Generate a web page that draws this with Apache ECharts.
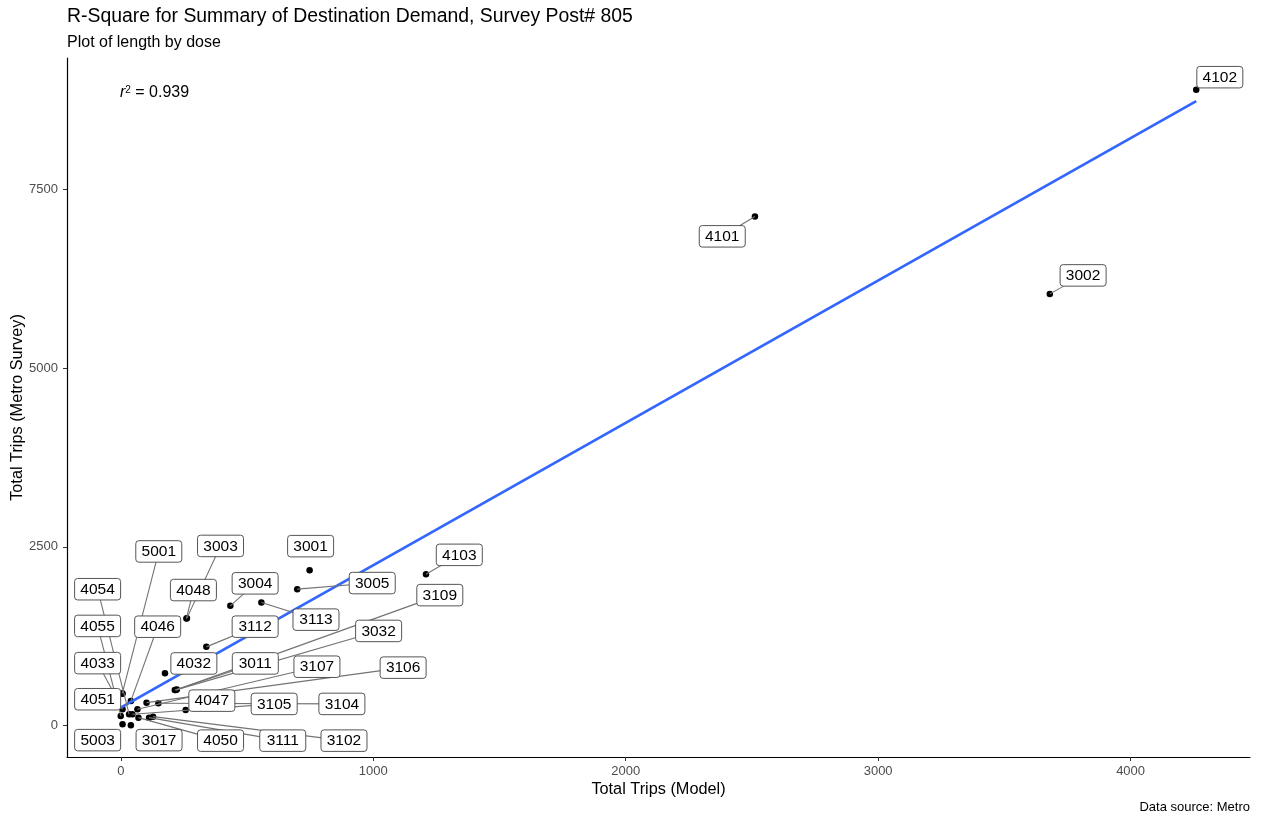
<!DOCTYPE html>
<html>
<head>
<meta charset="utf-8">
<title>R-Square for Summary of Destination Demand</title>
<script src="https://cdn.jsdelivr.net/npm/echarts@6/dist/echarts.min.js"></script>
<style>
  html, body { margin: 0; padding: 0; background: #fff; }
  #chart { width: 1265px; height: 816px; }
</style>
</head>
<body>
<div id="chart"></div>
<script>
// Destination zones (TAZ) with modelled vs surveyed trip totals
const stations = ['4102', '4101', '3002', '4103', '3001', '3005', '3004', '3113', '4048', '3003',
  '3112', '4032', '3011', '3032', '3109', '4051', '5001', '4033', '4055', '4054',
  '4046', '3105', '3107', '3106', '3104', '4047', '4050', '3111', '3102', '5003', '3017'];
const modelTrips = [4260, 2512, 3680, 1209, 748, 699, 434, 557, 260, 262,
  339, 175, 214, 222, 218, 7, 6, 7, 0, 33,
  40, 46, 66, 102, 149, 257, 70, 112, 128, 7, 40];
const surveyTrips = [8894, 7121, 6039, 2119, 2175, 1909, 1676, 1722, 1498, 1504,
  1102, 733, 500, 504, 497, 448, 452, 230, 136, 160,
  346, 160, 230, 322, 314, 220, 112, 112, 126, 20, 6];

const xTicks = [0, 1000, 2000, 3000, 4000];
const yTicks = [0, 2500, 5000, 7500];

// Where each repelled label box sits, as a pixel offset of its centre from the point
const labelOffset = {
  '4102': [23.6, -12.6], '4101': [-32.7, 19.8], '3002': [33.3, -18.5], '4103': [33.3, -19.3],
  '3001': [1, -24], '3005': [75, -6.1], '3004': [24.8, -22.5], '3113': [54.6, 17.1],
  '4048': [7, -28.5], '3003': [33.6, -72.2], '3112': [48.8, -20.2], '4032': [28.9, -9.8],
  '3011': [80.5, -26.5], '3032': [201.8, -58.7], '3109': [264, -95], '4051': [-24.9, 5.6],
  '5001': [36.5, -141.9], '4033': [-24.9, -46.1], '4055': [-23.2, -90], '4054': [-31.5, -125],
  '4046': [26.8, -74.2], '3105': [141.8, -10.3], '3107': [179.5, -42.5], '3106': [256.6, -35],
  '3104': [183.5, 0.7], '4047': [26.2, -9.3], '4050': [82.1, 23], '3111': [133.7, 23],
  '3102': [190.9, 24], '5003': [-24.9, 15.9], '3017': [28.2, 14.9]
};

const BOX_W = 46, BOX_H = 21.5, MIN_SEGMENT = 14;
const FONT = '"Liberation Sans", Arial, Helvetica, sans-serif';

const points = modelTrips.map((x, i) => [x, surveyTrips[i]]);

// Least-squares fit of survey on model
const n = points.length;
const mx = modelTrips.reduce((a, b) => a + b, 0) / n;
const my = surveyTrips.reduce((a, b) => a + b, 0) / n;
let sxy = 0, sxx = 0;
for (let i = 0; i < n; i++) {
  sxy += (modelTrips[i] - mx) * (surveyTrips[i] - my);
  sxx += (modelTrips[i] - mx) * (modelTrips[i] - mx);
}
const slope = sxy / sxx;
const intercept = my - slope * mx;
const xLo = Math.min(...modelTrips), xHi = Math.max(...modelTrips);
const yLo = Math.min(...surveyTrips), yHi = Math.max(...surveyTrips);
const fitLine = [[xLo, intercept + slope * xLo], [xHi, intercept + slope * xHi]];

// 5% padding on both ends of each axis
const xPad = 0.05 * (xHi - xLo), yPad = 0.05 * (yHi - yLo);

function labelCentre(params, api) {
  const name = stations[params.dataIndex];
  const p = api.coord([api.value(0), api.value(1)]);
  const off = labelOffset[name] || [0, 0];
  return { name, p, c: [p[0] + off[0], p[1] + off[1]] };
}

function renderSegment(params, api) {
  const { p, c } = labelCentre(params, api);
  const dx = p[0] - c[0], dy = p[1] - c[1];
  const tx = Math.abs(dx) > 1e-6 ? (BOX_W / 2) / Math.abs(dx) : Infinity;
  const ty = Math.abs(dy) > 1e-6 ? (BOX_H / 2) / Math.abs(dy) : Infinity;
  const t = Math.min(tx, ty);
  if (t >= 1) return { type: 'group', children: [] };
  const e = [c[0] + dx * t, c[1] + dy * t];
  if (Math.hypot(p[0] - e[0], p[1] - e[1]) < MIN_SEGMENT) return { type: 'group', children: [] };
  return {
    type: 'line',
    shape: { x1: p[0], y1: p[1], x2: c[0], y2: c[1] },
    style: { stroke: '#737373', lineWidth: 1.1 }
  };
}

function renderLabel(params, api) {
  const { name, c } = labelCentre(params, api);
  return {
    type: 'group',
    children: [
      {
        type: 'rect',
        shape: { x: c[0] - BOX_W / 2, y: c[1] - BOX_H / 2, width: BOX_W, height: BOX_H, r: 3 },
        style: { fill: '#ffffff', stroke: '#555555', lineWidth: 1 }
      },
      {
        type: 'text',
        style: {
          text: name, x: c[0], y: c[1] + 0.5, align: 'center', verticalAlign: 'middle',
          font: '15.5px ' + FONT, fill: '#000000'
        }
      }
    ]
  };
}

const plainNumber = v => String(v);

const chart = echarts.init(document.getElementById('chart'), null, { renderer: 'canvas' });

chart.setOption({
  animation: false,
  backgroundColor: '#ffffff',
  textStyle: { fontFamily: FONT },
  title: [
    {
      text: 'R-Square for Summary of Destination Demand, Survey Post# 805',
      subtext: 'Plot of length by dose',
      left: 67, top: 6, padding: 0, itemGap: 5,
      textStyle: { fontSize: 19.4, fontWeight: 'normal', color: '#000', lineHeight: 22, fontFamily: FONT },
      subtextStyle: { fontSize: 16, color: '#000', lineHeight: 19, fontFamily: FONT }
    },
    {
      text: 'Data source: Metro',
      right: 15, bottom: 1, padding: 0,
      textStyle: { fontSize: 13, fontWeight: 'normal', color: '#000', lineHeight: 15, fontFamily: FONT }
    }
  ],
  grid: { left: 67, right: 15, top: 58, bottom: 59, containLabel: false, outerBoundsMode: 'none' },
  xAxis: {
    type: 'value',
    min: xLo - xPad, max: xHi + xPad,
    name: 'Total Trips (Model)',
    nameLocation: 'middle', nameGap: 25, nameMoveOverlap: false,
    nameTextStyle: { fontSize: 16.3, color: '#000', fontFamily: FONT },
    axisLine: { show: true, onZero: false, lineStyle: { color: '#000', width: 1.2 } },
    axisTick: { show: true, length: 4, lineStyle: { color: '#333' }, customValues: xTicks },
    axisLabel: { color: '#4d4d4d', fontSize: 13, margin: 8, customValues: xTicks, formatter: plainNumber, fontFamily: FONT },
    splitLine: { show: false }
  },
  yAxis: {
    type: 'value',
    min: yLo - yPad, max: yHi + yPad,
    name: 'Total Trips (Metro Survey)',
    nameLocation: 'middle', nameGap: 41, nameMoveOverlap: false,
    nameTextStyle: { fontSize: 16.3, color: '#000', fontFamily: FONT },
    axisLine: { show: true, onZero: false, lineStyle: { color: '#000', width: 1.2 } },
    axisTick: { show: true, length: 4, lineStyle: { color: '#333' }, customValues: yTicks },
    axisLabel: { color: '#4d4d4d', fontSize: 13, margin: 9, customValues: yTicks, formatter: plainNumber, fontFamily: FONT },
    splitLine: { show: false }
  },
  graphic: [
    {
      type: 'text', left: 120, top: 85, z: 10,
      style: {
        text: '{i|r}{s|2}{t| = 0.939}',
        rich: {
          i: { fontSize: 16, fontStyle: 'italic', fontFamily: FONT, fill: '#000' },
          s: { fontSize: 10, verticalAlign: 'top', fontFamily: FONT, fill: '#000' },
          t: { fontSize: 16, fontFamily: FONT, fill: '#000' }
        }
      }
    }
  ],
  series: [
    {
      type: 'scatter', z: 2,
      data: points,
      symbolSize: 6.5,
      itemStyle: { color: '#000', opacity: 1 },
      emphasis: { disabled: true }
    },
    {
      type: 'line', z: 3,
      data: fitLine,
      showSymbol: false, symbol: 'none',
      lineStyle: { color: '#3366FF', width: 2.8 },
      emphasis: { disabled: true }
    },
    {
      type: 'custom', z: 4, clip: false,
      data: points,
      renderItem: renderSegment
    },
    {
      type: 'custom', z: 5, clip: false,
      data: points,
      renderItem: renderLabel
    }
  ]
});
</script>
</body>
</html>
